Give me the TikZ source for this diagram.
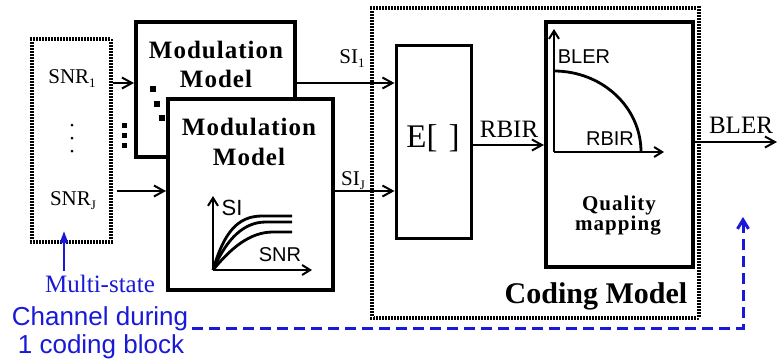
\documentclass[tikz,border=0pt]{standalone}
\usepackage{fontspec}
\setmainfont{Liberation Serif}
\setsansfont{Liberation Sans}
\usetikzlibrary{arrows.meta}
\definecolor{linkblue}{RGB}{25,25,215}
\newcommand\fsz[1]{\fontsize{#1}{#1}\selectfont}
\newcommand\lowidx[1]{\raisebox{-0.22em}{\fontsize{13}{13}\selectfont #1}}

\begin{document}
\begin{tikzpicture}[x=1pt,y=-1pt,
  modbox/.style={draw, line width=4pt, fill=white, inner sep=0pt},
  plainbox/.style={draw, line width=3pt, inner sep=0pt},
  dotbox/.style={draw, line width=3.2pt, inner sep=0pt,
                 postaction={draw=white, line width=3.6pt, dash pattern=on 0.6pt off 2.4pt}},
  lbl/.style={inner sep=0pt, font=\fsz{21}},
  plotlbl/.style={inner sep=0pt, font=\sffamily\fsz{20}},
  boldlbl/.style={inner sep=0pt, font=\bfseries\fsz{25}\addfontfeature{LetterSpace=4}},
  arr/.style={line width=2pt, -{Straight Barb[length=10pt,width=11pt]}},
  axis/.style={line width=2pt, -{Straight Barb[length=8pt,width=10pt]}},
  curve/.style={line width=2.8pt},
  feedback/.style={draw=linkblue, line width=3pt, dash pattern=on 11pt off 6pt,
                   -{Straight Barb[length=9pt,width=11pt]}},
  bluetxt/.style={inner sep=0pt, text=linkblue}]
\useasboundingbox (0,0) rectangle (777,360);

% channel states
\node[dotbox, minimum width=79pt, minimum height=203pt] (snrbox) at (71.5,140.5) {};
\node[lbl, anchor=base] (snr1) at (72,83) {SNR\lowidx{1}};
\node[lbl, anchor=base] (snrJ) at (73,205) {SNR\lowidx{J}};
\foreach \yy in {125,138,151} \fill (72,\yy) circle (1.5pt);

% stacked modulation models
\node[modbox, minimum width=159pt, minimum height=135pt] (mod1) at (215.5,89.5) {};
\node[boldlbl, anchor=base] (mod1a) at (216,58) {Modulation};
\node[boldlbl, anchor=base] (mod1b) at (216,87) {Model};
\fill (149.5,86) rectangle (155.5,92);
\fill (154,101) rectangle (160,107);
\fill (158.5,115) rectangle (164.5,121);
\foreach \yy in {125,135,145} \fill (121.5,\yy-2.5) rectangle (127,\yy+2.5);

\node[modbox, minimum width=165pt, minimum height=191pt] (mod2) at (250.5,194.5) {};
\node[boldlbl, anchor=base] (mod2a) at (249,135) {Modulation};
\node[boldlbl, anchor=base] (mod2b) at (249,165) {Model};

% SI versus SNR sketch
\draw[axis] (213,270) -- (213,196);
\draw[axis] (213,270) -- (312,270);
\draw[curve] (213,270) .. controls (224,232) and (238,216) .. (262,216) -- (292,216);
\draw[curve] (213,270) .. controls (227,238) and (244,222) .. (266,222) -- (292,222);
\draw[curve] (213,270) .. controls (231,248) and (250,232) .. (273,232) -- (292,232);
\node[plotlbl, font=\sffamily\fsz{22}, anchor=base] (silbl) at (232,215) {SI};
\node[plotlbl, anchor=base] (snrlbl) at (280,261) {SNR};

% coding model
\node[dotbox, minimum width=327pt, minimum height=310pt] (codebox) at (535.5,163) {};
\node[inner sep=0pt, font=\bfseries\fsz{30}, anchor=base] (codelbl) at (596,303) {Coding Model};
\node[plainbox, minimum width=75pt, minimum height=193pt] (ebox) at (433.5,141.5) {};
\node[inner sep=0pt, font=\fsz{33}, anchor=base] (elbl) at (433,147) {E[\,\,]};
\node[modbox, minimum width=147pt, minimum height=245pt] (qbox) at (619.5,144.5) {};
\node[inner sep=0pt, font=\bfseries\fsz{21}\addfontfeature{LetterSpace=5}, anchor=base] (qlbl1) at (619,210) {Quality};
\node[inner sep=0pt, font=\bfseries\fsz{21}\addfontfeature{LetterSpace=5}, anchor=base] (qlbl2) at (618,230) {mapping};

% BLER versus RBIR sketch
\draw[axis] (554,152) -- (554,29);
\draw[axis] (554,152) -- (664,152);
\draw[curve] (554,71) .. controls (602,71) and (641,107) .. (641,152);
\node[plotlbl, anchor=base] (blerplot) at (584,63) {BLER};
\node[plotlbl, anchor=base] (rbirplot) at (610,145) {RBIR};

% signal flow
\draw[arr] (snrbox.east |- snr1.base) -- (mod1.west |- snr1.base);
\draw[arr] ([xshift=4pt]snrbox.east |- 0,191) -- (mod2.west |- 0,191);
\node[lbl, anchor=base] (si1) at (352,63) {SI\lowidx{1}};
\node[lbl, anchor=base] (siJ) at (353,185) {SI\lowidx{J}};
\draw[arr] (mod1.east |- snr1.base) -- (ebox.west |- snr1.base);
\draw[arr] (mod2.east |- 0,191) -- (ebox.west |- 0,191);
\node[lbl, font=\fsz{25}, anchor=base] (rbir) at (509,137) {RBIR};
\draw[arr] (ebox.east |- 0,145) -- (qbox.west |- 0,145);
\coordinate (out) at (777,142);
\draw[arr] (qbox.east |- out) -- (out);
\node[lbl, font=\fsz{25}, anchor=base] (bler) at (741,133) {BLER};

% channel annotation and feedback
\node[bluetxt, font=\fsz{25}, anchor=base] (multi) at (100,292) {Multi-state};
\node[bluetxt, font=\sffamily\fsz{26}, anchor=base] (chan) at (100,325) {Channel during};
\node[bluetxt, font=\sffamily\fsz{26}, anchor=base] (block) at (101,353) {1 coding block};
\draw[linkblue, line width=2.2pt, -{Triangle[length=12pt,width=8pt]}]
  (64,271) -- (64,231);
\coordinate (fbstart) at (192,328);
\coordinate (fbcorner) at (743,328);
\coordinate (fbend) at (743,217);
\draw[feedback] (fbstart) -- (fbcorner) -- (fbend);
\end{tikzpicture}
\end{document}
